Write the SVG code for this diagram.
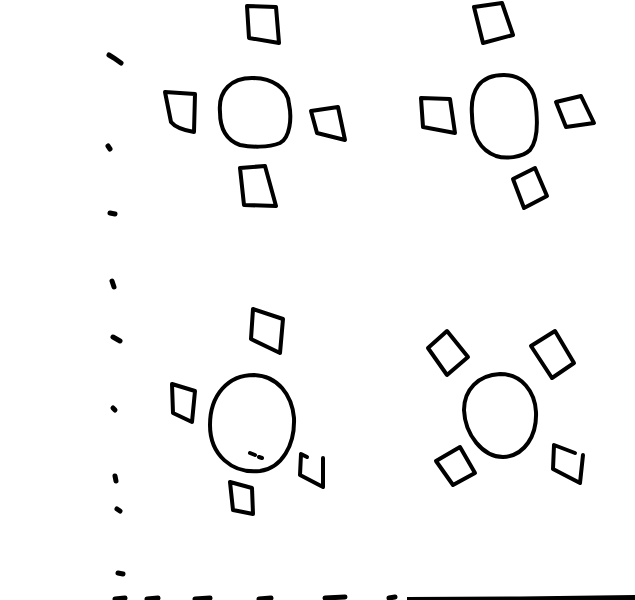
<svg xmlns="http://www.w3.org/2000/svg" width="635" height="600" viewBox="0 0 635 600">
<style>
.s{fill:none;stroke:#000;stroke-width:4;stroke-linejoin:round;stroke-linecap:round}
.m{fill:#000;stroke:#000;stroke-width:5;stroke-linecap:round}
</style>
<rect width="635" height="600" fill="#fff"/>
<g id="table1">
<path class="s" d="M220,112 C218,90 232,78 252,78 C272,78 288,88 289,104 C292,118 290,138 280,143 C268,148 250,147 240,145 C226,140 220,128 220,112 Z"/>
<path class="s" d="M247,6 L276,7 L279,43 L249,38 Z"/>
<path class="s" d="M165,92 L195,94 L194,132 C182,130 175,127 171,122 Z"/>
<path class="s" d="M311,111 L338,107 L345,140 L317,133 Z"/>
<path class="s" d="M240,168 L265,166 L276,206 L244,205 Z"/>
</g>
<g id="table2">
<path class="s" d="M472,115 C470,90 480,75 504,75 C520,75 532,85 535,100 C538,120 538,140 530,150 C522,158 505,159 496,156 C480,150 472,135 472,115 Z"/>
<path class="s" d="M474,7 L502,3 L513,35 L483,43 Z"/>
<path class="s" d="M421,98 L450,99 L455,133 L423,127 Z"/>
<path class="s" d="M556,102 L581,96 L594,123 L566,127 Z"/>
<path class="s" d="M513,179 L535,168 L547,196 L524,208 Z"/>
</g>
<g id="table3">
<path class="s" d="M210,425 C210,395 228,375 254,375 C278,376 292,395 294,418 C295,445 282,468 260,471 C232,474 210,455 210,425 Z"/>
<path class="s" d="M250,453 L255,455 M259,457 L262,458" stroke-width="2.5"/>
<path class="s" d="M253,309 L283,319 L280,353 L251,339 Z"/>
<path class="s" d="M172,384 L195,391 L192,422 L173,413 Z"/>
<path class="s" d="M307,457 L301,454 L300,475 L323,487 L323,458"/>
<path class="s" d="M230,482 L252,488 L253,514 L233,510 Z"/>
</g>
<g id="table4">
<path class="s" d="M464,410 C464,390 478,375 500,374 C522,374 535,392 536,412 C537,435 525,456 503,457 C483,457 465,435 464,410 Z"/>
<path class="s" d="M428,348 L447,331 L468,357 L447,375 Z"/>
<path class="s" d="M531,346 L555,331 L574,363 L552,378 Z"/>
<path class="s" d="M436,461 L460,447 L475,473 L453,485 Z"/>
<path class="s" d="M575,453 L554,445 L553,469 L580,483 L583,455"/>
</g>
<g id="marks">
<path class="m" d="M109,55 L114,58 L121,63"/>
<path class="m" d="M108,146 L110,149"/>
<path class="m" d="M110,213 L115,214"/>
<path class="m" d="M112,281 L114,287"/>
<path class="m" d="M113,337 L120,341"/>
<path class="m" d="M113,408 L115,410" stroke-width="4"/>
<path class="m" d="M115,476 L116,481"/>
<path class="m" d="M117,509 L120,511"/>
<path class="m" d="M118,573 L123,574" stroke-width="4"/>
<path class="m" d="M115,599 L125,598" stroke-width="6"/>
<path class="m" d="M147,599 L158,598" stroke-width="6"/>
<path class="m" d="M195,599 L210,598" stroke-width="6"/>
<path class="m" d="M259,599 L271,598" stroke-width="6"/>
<path class="m" d="M325,598 L345,597" stroke-width="5"/>
<path class="m" d="M389,598 L395,597" stroke-width="6"/>
<path d="M407,600 L407,597 L520,596.5 L635,595 L635,600 Z" fill="#000"/>
</g>
</svg>
